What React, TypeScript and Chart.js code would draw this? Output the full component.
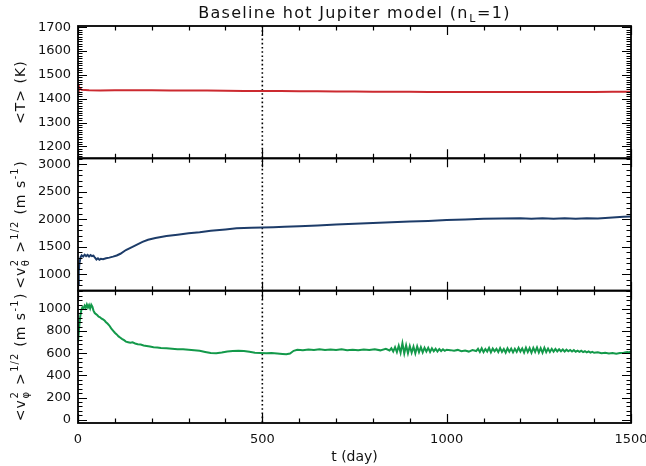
import { useEffect, useRef } from "react";
import { Chart, registerables } from "chart.js";

Chart.register(...registerables);

// ---------- data ----------
const tempDays = [0, 2, 5, 10, 30, 60, 100, 150, 200, 250, 300, 350, 400, 450, 500, 550, 600, 650, 700, 750, 800, 850, 900, 950, 1000, 1050, 1100, 1150, 1200, 1250, 1300, 1350, 1400, 1450, 1500];
const tempK = [1462, 1450, 1442, 1438, 1436, 1435, 1436, 1436, 1436, 1435, 1435, 1434, 1433, 1432, 1432, 1432, 1431, 1431, 1430, 1430, 1429, 1429, 1429, 1428, 1428, 1428, 1428, 1428, 1428, 1428, 1428, 1428, 1428, 1429, 1429];

const thetaDays = [0, 2, 4, 7, 10, 14, 18, 22, 26, 30, 34, 38, 42, 46, 50, 54, 58, 62, 68, 76, 85, 95, 105, 115, 130, 145, 160, 175, 190, 210, 240, 270, 300, 330, 360, 400, 430, 470, 500, 530, 560, 600, 650, 700, 750, 800, 850, 900, 950, 1000, 1050, 1100, 1150, 1200, 1230, 1260, 1290, 1320, 1350, 1380, 1410, 1450, 1480, 1500];
const thetaRms = [820, 1050, 1200, 1310, 1345, 1320, 1355, 1330, 1352, 1322, 1348, 1330, 1338, 1300, 1268, 1290, 1262, 1280, 1272, 1290, 1302, 1320, 1340, 1372, 1440, 1490, 1540, 1588, 1628, 1660, 1695, 1720, 1745, 1765, 1790, 1815, 1835, 1848, 1852, 1856, 1862, 1874, 1888, 1903, 1918, 1933, 1948, 1958, 1968, 1985, 1998, 2008, 2014, 2018, 2012, 2020, 2010, 2018, 2012, 2020, 2016, 2032, 2044, 2050];

const phiDays = [
  0, 3, 6, 9, 12, 15, 18, 21, 24, 27, 30, 33, 36, 39, 42, 45, 48, 52, 56, 60, 64, 68, 72, 76, 80, 85, 90, 95, 100, 105, 110, 115, 120, 125, 130, 136, 142, 148, 155, 162, 170, 178, 186, 195, 205, 215, 225, 240, 255, 270, 285, 300, 315, 330, 345, 360, 375, 390, 405, 420, 435, 450, 465, 480, 495, 510, 525, 540, 555, 565, 575, 585, 595,
  610, 625, 640, 655, 670, 685, 700, 715, 730, 745, 760, 775, 790, 805, 820, 835, 845,
  850, 855, 860, 865, 870, 875, 880, 885, 890, 895, 900, 905, 910, 915, 920, 925, 930, 935, 940, 945, 950, 955, 960, 965, 970, 975, 980, 985, 990, 995, 1000,
  1010, 1020, 1030, 1040, 1050, 1060, 1070, 1080,
  1085, 1090, 1095, 1100, 1105, 1110, 1115, 1120, 1125, 1130, 1135, 1140, 1145, 1150, 1155, 1160, 1165, 1170, 1175, 1180, 1185, 1190, 1195, 1200, 1205, 1210, 1215, 1220, 1225, 1230, 1235, 1240, 1245, 1250, 1255, 1260, 1265, 1270, 1275, 1280, 1285, 1290, 1295, 1300, 1305, 1310, 1315, 1320, 1325, 1330, 1335, 1340, 1345, 1350, 1355, 1360, 1365, 1370, 1375, 1380, 1385, 1390, 1395, 1400,
  1410, 1420, 1430, 1440, 1450, 1460, 1470, 1480, 1490, 1495, 1500,
];
const phiRms = [
  700, 830, 930, 990, 1015, 1005, 1030, 1010, 1040, 1012, 1035, 1005, 1038, 1020, 985, 965, 955, 945, 930, 925, 912, 905, 895, 880, 868, 850, 825, 805, 785, 770, 752, 740, 728, 718, 705, 700, 695, 698, 688, 682, 678, 670, 665, 660, 655, 652, 648, 644, 640, 637, 635, 631, 627, 622, 612, 603, 600, 606, 615, 620, 622, 620, 613, 605, 602, 600, 601, 598, 594, 590, 598, 622, 632,
  628, 634, 630, 636, 629, 634, 630, 636, 628, 632, 627, 633, 629, 636, 626, 640, 625,
  645, 615, 655, 610, 668, 605, 690, 598, 672, 600, 665, 605, 660, 598, 662, 610, 655, 608, 650, 615, 648, 612, 645, 618, 640, 615, 638, 620, 635, 622, 632,
  628, 622, 630, 618, 625, 615, 628, 620,
  640, 612, 645, 610, 638, 615, 648, 608, 642, 618, 640, 610, 646, 612, 638, 606, 645, 614, 642, 608, 640, 612, 648, 615, 644, 606, 650, 610, 646, 604, 648, 612, 652, 606, 646, 604, 650, 610, 642, 612, 640, 614, 638, 616, 636, 618, 634, 616, 632, 618, 630, 616, 628, 614, 624, 612, 622, 610, 618, 608, 616, 606, 612, 604,
  608, 600, 604, 598, 602, 596, 602, 605, 612, 608, 618,
];

const xTickValues = [0, 500, 1000, 1500];
const tempTickValues = [1200, 1300, 1400, 1500, 1600, 1700];
const thetaTickValues = [1000, 1500, 2000, 2500, 3000];
const phiTickValues = [0, 200, 400, 600, 800, 1000];
const MARK_DAY = 500;

// ---------- styling ----------
const FONT = '"DejaVu Sans", "Liberation Sans", sans-serif';
const INK = "#111";

type Part = { k: "n" | "sup" | "sub" | "stack"; t?: string; sup?: string; sub?: string };

const titleParts: Part[] = [
  { k: "n", t: "Baseline hot Jupiter model (n" },
  { k: "sub", t: "L" },
  { k: "n", t: "=1)" },
];
const tempLabel: Part[] = [{ k: "n", t: "<T> (K)" }];
const thetaLabel: Part[] = [
  { k: "n", t: "<v" },
  { k: "stack", sup: "2", sub: "θ" },
  { k: "n", t: " >" },
  { k: "sup", t: "1/2" },
  { k: "n", t: " (m s" },
  { k: "sup", t: "-1" },
  { k: "n", t: ")" },
];
const phiLabel: Part[] = [
  { k: "n", t: "<v" },
  { k: "stack", sup: "2", sub: "φ" },
  { k: "n", t: " >" },
  { k: "sup", t: "1/2" },
  { k: "n", t: " (m s" },
  { k: "sup", t: "-1" },
  { k: "n", t: ")" },
];

function drawRich(ctx: CanvasRenderingContext2D, parts: Part[], cx: number, cy: number, size: number, rotate: boolean, spacing = 0) {
  const small = Math.round(size * 0.7);
  const fN = `${size}px ${FONT}`;
  const fS = `${small}px ${FONT}`;
  ctx.save();
  (ctx as any).letterSpacing = `${spacing}px`;
  const widthOf = (p: Part) => {
    if (p.k === "n") { ctx.font = fN; return ctx.measureText(p.t!).width; }
    ctx.font = fS;
    if (p.k === "stack") return Math.max(ctx.measureText(p.sup!).width, ctx.measureText(p.sub!).width) + 1;
    return ctx.measureText(p.t!).width + 1;
  };
  ctx.translate(cx, cy);
  if (rotate) ctx.rotate(-Math.PI / 2);
  ctx.fillStyle = INK;
  ctx.textBaseline = "alphabetic";
  ctx.textAlign = "left";
  const total = parts.reduce((a, p) => a + widthOf(p), 0);
  let x = -total / 2;
  for (const p of parts) {
    const w = widthOf(p);
    if (p.k === "n") { ctx.font = fN; ctx.fillText(p.t!, x, 0); }
    else if (p.k === "sup") { ctx.font = fS; ctx.fillText(p.t!, x + 0.5, -size * 0.48); }
    else if (p.k === "sub") { ctx.font = fS; ctx.fillText(p.t!, x + 0.5, size * 0.25); }
    else { ctx.font = fS; ctx.fillText(p.sup!, x + 0.5, -size * 0.48); ctx.fillText(p.sub!, x + 0.5, size * 0.3); }
    x += w;
  }
  ctx.restore();
}

const panelSpec: Record<string, { major: number; minor: number; label: Part[] }> = {
  yT: { major: 100, minor: 10, label: tempLabel },
  yTh: { major: 500, minor: 100, label: thetaLabel },
  yPhi: { major: 200, minor: 40, label: phiLabel },
};

const panelsPlugin = {
  id: "panels",
  beforeDatasetsDraw(chart: any) {
    const { ctx, chartArea, scales } = chart;
    const x = scales.x.getPixelForValue(MARK_DAY);
    ctx.save();
    ctx.strokeStyle = "#000";
    ctx.lineWidth = 1.6;
    ctx.setLineDash([1.6, 2.6]);
    ctx.beginPath();
    ctx.moveTo(x, chartArea.top);
    ctx.lineTo(x, chartArea.bottom);
    ctx.stroke();
    ctx.restore();
  },
  afterDatasetsDraw(chart: any) {
    const { ctx, chartArea, scales } = chart;
    const xs = scales.x;
    const L = chartArea.left, R = chartArea.right;
    const MAJ = 9, MIN = 4.5;
    ctx.save();
    ctx.strokeStyle = "#000";
    for (const id of Object.keys(panelSpec)) {
      const s = scales[id];
      const spec = panelSpec[id];
      const T = s.top, B = s.bottom;
      ctx.lineWidth = 1.2;
      ctx.beginPath();
      const start = Math.ceil(s.min / spec.minor) * spec.minor;
      for (let v = start; v <= s.max + 1e-9; v += spec.minor) {
        const y = Math.round(s.getPixelForValue(v)) + 0.5;
        const len = Math.abs(v % spec.major) < 1e-6 ? MAJ : MIN;
        ctx.moveTo(L, y); ctx.lineTo(L + len, y);
        ctx.moveTo(R, y); ctx.lineTo(R - len, y);
      }
      for (let v = xs.min; v <= xs.max + 1e-9; v += 100) {
        const x = Math.round(xs.getPixelForValue(v)) + 0.5;
        const len = v % 500 === 0 ? MAJ : MIN;
        ctx.moveTo(x, T); ctx.lineTo(x, T + len);
        ctx.moveTo(x, B); ctx.lineTo(x, B - len);
      }
      ctx.stroke();
      ctx.lineWidth = 1.8;
      ctx.strokeRect(L, T, R - L, B - T);
      drawRich(ctx, spec.label, 25, (T + B) / 2, 14, true, 1);
    }
    ctx.restore();
    drawRich(ctx, titleParts, (L + R) / 2, 18, 16, false, 1.3);
    drawRich(ctx, [{ k: "n", t: "t (day)" }], (L + R) / 2, 461, 14, false);
  },
};

const pts = (xs: number[], ys: number[]) => xs.map((x, i) => ({ x, y: ys[i] }));
const plain = (v: any) => String(v);

const yAxis = (min: number, max: number, values: number[]) => ({
  type: "linear" as const,
  position: "left" as const,
  stack: "panels",
  stackWeight: 1,
  min,
  max,
  grid: { display: false, drawTicks: false },
  border: { display: false },
  ticks: { font: { family: FONT, size: 13 }, color: INK, padding: 7, autoSkip: false, callback: plain },
  afterBuildTicks: (s: any) => { s.ticks = values.map((value) => ({ value })); },
  afterFit: (s: any) => { s.width = 78; s.paddingTop = 0; s.paddingBottom = 0; },
});

export default function App() {
  const ref = useRef<HTMLCanvasElement>(null);
  useEffect(() => {
    if (!ref.current) return;
    const chart = new Chart(ref.current, {
      type: "line",
      data: {
        datasets: [
          { data: pts(phiDays, phiRms), yAxisID: "yPhi", borderColor: "#13994a", borderWidth: 2, pointRadius: 0, fill: false },
          { data: pts(thetaDays, thetaRms), yAxisID: "yTh", borderColor: "#1d3c69", borderWidth: 2, pointRadius: 0, fill: false },
          { data: pts(tempDays, tempK), yAxisID: "yT", borderColor: "#cc2a30", borderWidth: 2, pointRadius: 0, fill: false },
        ],
      },
      options: {
        responsive: false,
        animation: false,
        events: [],
        layout: { padding: { top: 26, right: 15, left: 0, bottom: 0 } },
        plugins: { legend: { display: false }, tooltip: { enabled: false }, title: { display: false } },
        scales: {
          x: {
            type: "linear",
            position: "bottom",
            min: 0,
            max: 1500,
            grid: { display: false, drawTicks: false },
            border: { display: false },
            ticks: { font: { family: FONT, size: 13 }, color: INK, padding: 9, autoSkip: false, maxRotation: 0, callback: plain },
            afterBuildTicks: (s: any) => { s.ticks = xTickValues.map((value) => ({ value })); },
            afterFit: (s: any) => { s.height = 43; s.paddingLeft = 0; s.paddingRight = 0; },
          },
          yPhi: yAxis(-30, 1165, phiTickValues),
          yTh: yAxis(700, 3110, thetaTickValues),
          yT: yAxis(1150, 1705, tempTickValues),
        } as any,
      },
      plugins: [panelsPlugin],
    });
    return () => chart.destroy();
  }, []);
  return (
    <div style={{ position: "absolute", left: 0, top: 0, width: 646, height: 466, background: "#fff" }}>
      <canvas ref={ref} width={646} height={466} style={{ display: "block" }} />
    </div>
  );
}
